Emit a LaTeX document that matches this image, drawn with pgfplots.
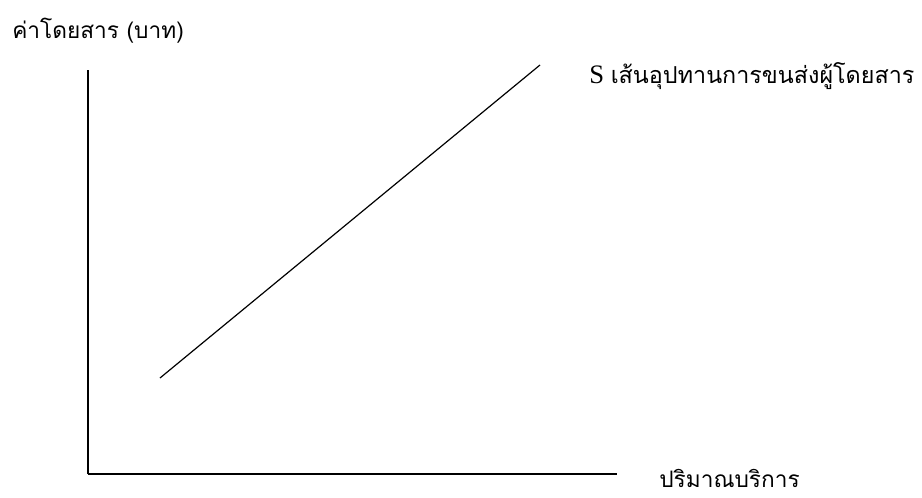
\documentclass[border=0pt]{standalone}
\usepackage{fontspec}
\setmainfont{Liberation Serif}
\newfontfamily\thai[Script=Thai]{Loma}
\usepackage{pgfplots}
\pgfplotsset{compat=1.18}
\begin{document}
\begin{tikzpicture}
\begin{axis}[
  scale only axis,
  width=396.75pt, height=303pt,
  xmin=88, xmax=617, ymin=23, ymax=427,
  axis x line=bottom, axis y line=left,
  axis line style={line width=1pt, -},
  xtick=\empty, ytick=\empty,
  clip=false,
]
  % supply curve S
  \addplot[black, line width=0.9pt] coordinates {(160,119) (540,432)};
  % page frame
  \path[draw=none] (axis cs:0,0) rectangle (axis cs:922,497);
  \node[overlay, anchor=base west, inner sep=0pt, font=\thai\fontsize{17}{19}\selectfont]
    at (axis cs:12,458) {ค่าโดยสาร (บาท)};
  \node[overlay, anchor=base west, inner sep=0pt]
    at (axis cs:589,413) {\fontsize{20}{22}\selectfont S \thai\fontsize{17.5}{19}\selectfont เส้นอุปทานการขนส่งผู้โดยสาร};
  \node[overlay, anchor=base west, inner sep=0pt, font=\thai\fontsize{17}{19}\selectfont]
    at (axis cs:659,10) {ปริมาณบริการ};
\end{axis}
\end{tikzpicture}
\end{document}
